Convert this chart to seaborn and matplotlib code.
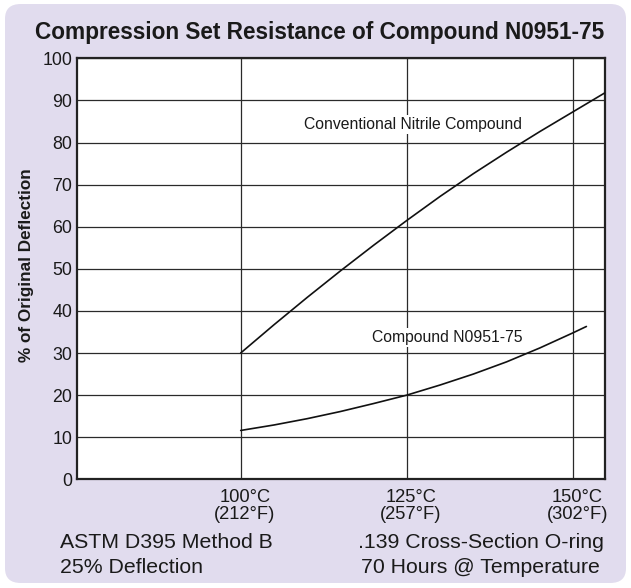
import matplotlib
matplotlib.use("Agg")
import matplotlib.pyplot as plt
from matplotlib.patches import FancyBboxPatch
from matplotlib.transforms import ScaledTranslation
import pandas as pd
import seaborn as sns

# Temperature (deg C) and compression set (% of original deflection)
conv_temp = [100, 105, 110, 115, 120, 125, 130, 135, 140, 145, 150, 155]
conv_set = [30.0, 36.7, 43.2, 49.5, 55.6, 61.5, 67.2, 72.6, 77.7, 82.6, 87.3, 92.0]

n0951_temp = [100, 105, 110, 115, 120, 125, 130, 135, 140, 145, 150, 152]
n0951_set = [11.6, 12.9, 14.4, 16.1, 18.0, 20.0, 22.4, 25.0, 27.9, 31.2, 34.8, 36.3]

temp_ticks = [100, 125, 150]
temp_labels = ["100°C\n(212°F)", "125°C\n(257°F)", "150°C\n(302°F)"]
y_ticks = list(range(0, 101, 10))

sns.set_style("white")
plt.rcParams["font.family"] = ["Liberation Sans", "DejaVu Sans"]

fig = plt.figure(figsize=(6.31, 5.88), dpi=100, facecolor="white")

# Lavender rounded panel behind everything
panel = FancyBboxPatch((5 / 631, 5 / 588), 621 / 631, 579 / 588,
                       boxstyle="round,pad=0,rounding_size=0.025",
                       transform=fig.transFigure, facecolor="#e1dcee",
                       edgecolor="none", zorder=0)
fig.patches.append(panel)

ax = fig.add_axes([76.5 / 631, 1 - 479.3 / 588, (605 - 76.5) / 631, (479.3 - 58.3) / 588])
ax.set_facecolor("white")
ax.set_zorder(1)

df_conv = pd.DataFrame({"temp": conv_temp, "set": conv_set})
df_n = pd.DataFrame({"temp": n0951_temp, "set": n0951_set})
sns.lineplot(data=df_conv, x="temp", y="set", ax=ax, color="#111111", lw=1.2, zorder=3)
sns.lineplot(data=df_n, x="temp", y="set", ax=ax, color="#111111", lw=1.2, zorder=3)

ax.set_xlim(75.3, 154.8)
ax.set_ylim(0, 100)
ax.set_yticks(y_ticks)
ax.set_xticks(temp_ticks)
ax.set_xticklabels(temp_labels, linespacing=1.0)
ax.tick_params(axis="both", length=0, colors="#1a1a1a")
ax.tick_params(axis="x", pad=7, labelsize=13.2)
ax.tick_params(axis="y", pad=3, labelsize=12.8)
# nudge temperature labels slightly to the right of their grid lines
shift = ScaledTranslation(3 / 72, 0, fig.dpi_scale_trans)
for lbl in ax.get_xticklabels():
    lbl.set_transform(lbl.get_transform() + shift)
ax.grid(True, color="#2a2a2a", lw=0.9)
ax.set_axisbelow(True)
for s in ax.spines.values():
    s.set_color("#222222")
    s.set_linewidth(1.6)
ax.set_xlabel("")
ax.set_ylabel("")

box = dict(facecolor="white", edgecolor="none", pad=1.5)
ax.text(125.9, 84.2, "Conventional Nitrile Compound", ha="center", va="center",
        fontsize=11.3, color="#1a1a1a", bbox=box, zorder=4)
ax.text(131.0, 33.7, "Compound N0951-75", ha="center", va="center",
        fontsize=11.3, color="#1a1a1a", bbox=box, zorder=4)

fig.text(320 / 631, 1 - 32 / 588, "Compression Set Resistance of Compound N0951-75",
         ha="center", va="center", fontsize=16.3, fontweight="bold", color="#1a1a1a")
fig.text(27 / 631, 1 - 265 / 588, "% of Original Deflection", rotation=90,
         ha="center", va="center", fontsize=12.3, fontweight="bold", color="#1a1a1a")

fig.text(60.5 / 631, 1 - 548.3 / 588, "ASTM D395 Method B", ha="left", va="baseline",
         fontsize=15.3, color="#1a1a1a")
fig.text(60.5 / 631, 1 - 573.3 / 588, "25% Deflection", ha="left", va="baseline",
         fontsize=15.3, color="#1a1a1a")
fig.text(480.5 / 631, 1 - 548.3 / 588, ".139 Cross-Section O-ring", ha="center", va="baseline",
         fontsize=15.3, color="#1a1a1a")
fig.text(480.5 / 631, 1 - 573.3 / 588, "70 Hours @ Temperature", ha="center", va="baseline",
         fontsize=15.3, color="#1a1a1a")

fig.savefig("out.png", dpi=100, facecolor=fig.get_facecolor())
